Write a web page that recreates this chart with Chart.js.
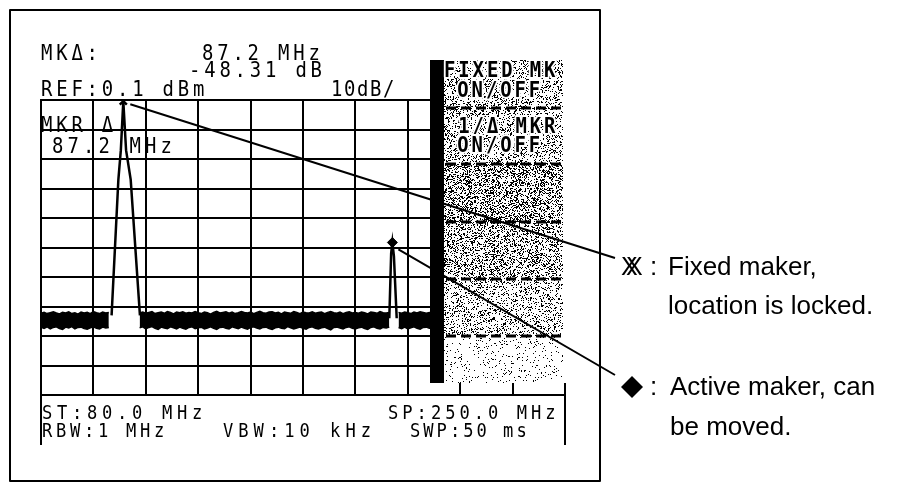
<!DOCTYPE html>
<html>
<head>
<meta charset="utf-8">
<script src="https://cdn.jsdelivr.net/npm/chart.js@4.4.1/dist/chart.umd.min.js"></script>
<style>
    html, body { margin: 0; padding: 0; background: #fff; }
    #wrap { width: 899px; height: 485px; }
</style>
</head>
<body>
<div id="wrap"><canvas id="spectro" width="899" height="485"></canvas></div>
<script>
// Barrido: 80 a 250 MHz, 17 MHz/div, 10 dB/div
const startMHz = 80;
const stopMHz = 250;
const spanStep = 17;
const dbTop = 0;
const dbBottom = -100;
const dbStep = 10;

// Piso de ruido (borde superior e inferior de la banda), null = corte en los picos
const noiseMHz = [80, 81, 82, 83, 84, 85, 86, 87, 88, 89, 90, 91, 92, 93, 94, 95, 96, 97, 98, 99, 100, 101, 102,
    107,
    112, 113, 114, 115, 116, 117, 118, 119, 120, 121, 122, 123, 124, 125, 126, 127, 128, 129, 130, 131,
    132, 133, 134, 135, 136, 137, 138, 139, 140, 141, 142, 143, 144, 145, 146, 147, 148, 149, 150, 151,
    152, 153, 154, 155, 156, 157, 158, 159, 160, 161, 162, 163, 164, 165, 166, 167, 168, 169, 170, 171,
    172, 173, 174, 175, 176, 177, 178, 179, 180, 181, 182, 183, 184, 185, 186, 187, 188, 189, 190, 191,
    192, 193,
    194.5,
    196, 197, 198, 199, 200, 201, 202, 203, 204, 205, 206, 207];
const noiseTop = [-72.3, -72.0, -72.4, -72.1, -71.8, -72.2, -72.5, -72.0, -72.2, -71.8, -72.4, -72.1, -72.6, -71.9, -72.2, -72.0, -72.4, -71.7, -72.1, -72.4, -71.9, -72.2, -72.0,
    null,
    -72.2, -71.9, -72.3, -72.0, -71.7, -72.4, -72.1, -71.9, -72.3, -71.7, -72.0, -72.5, -71.9, -72.1, -71.8, -72.3, -72.0, -72.2, -71.7, -72.1,
    -72.4, -71.9, -72.1, -72.6, -72.0, -71.6, -72.2, -72.0, -71.8, -72.3, -71.9, -72.4, -72.1, -71.7, -72.0, -72.2, -71.9, -72.4, -72.0, -71.6,
    -72.1, -72.3, -71.9, -71.8, -72.2, -72.0, -72.5, -71.9, -72.1, -72.3, -71.7, -72.0, -72.4, -71.9, -72.1, -72.2, -71.8, -72.3, -72.0, -71.9,
    -72.4, -72.0, -71.7, -72.1, -72.3, -71.9, -72.4, -72.0, -71.8, -72.2, -72.0, -72.3, -71.9, -72.1, -72.5, -71.9, -72.0, -72.3, -71.7, -72.1,
    -72.2, -72.0,
    null,
    -72.0, -72.3, -71.9, -72.1, -72.4, -71.9, -72.2, -71.8, -72.0, -72.3, -72.0, -72.2];
const noiseBottom = [-77.0, -77.4, -76.9, -77.6, -77.1, -76.9, -77.5, -77.8, -77.0, -77.3, -76.8, -77.6, -77.1, -77.0, -77.5, -77.7, -77.2, -76.9, -77.4, -77.6, -77.0, -77.3, -77.1,
    null,
    -77.2, -76.9, -77.6, -77.1, -76.8, -77.4, -77.8, -77.0, -77.3, -77.5, -76.9, -77.2, -77.6, -77.0, -77.4, -77.7, -77.1, -76.9, -77.5, -77.2,
    -77.0, -77.6, -77.3, -76.9, -77.4, -77.8, -77.1, -77.0, -77.4, -77.6, -76.9, -77.2, -77.5, -77.0, -77.4, -77.7, -77.1, -76.9, -77.3, -77.6,
    -77.1, -77.0, -77.5, -77.8, -77.2, -77.0, -77.4, -77.5, -76.8, -77.2, -77.6, -77.3, -77.0, -77.4, -77.7, -77.1, -76.9, -77.4, -77.6, -77.2,
    -77.0, -77.5, -77.9, -77.1, -77.0, -77.3, -77.6, -77.1, -76.9, -77.4, -77.6, -77.2, -77.0, -77.5, -77.8, -77.1, -76.9, -77.4, -77.6, -77.1,
    -77.3, -77.0,
    null,
    -77.1, -77.5, -77.0, -77.6, -77.2, -76.9, -77.4, -77.7, -77.1, -77.0, -77.4, -77.5];

// Los dos picos
const peak1MHz = [102.9, 105.1, 105.9, 106.7, 107.6, 109.1, 112.1];
const peak1dB = [-73, -27, -17, -0.4, -17, -27, -73];
const peak2MHz = [193.0, 193.6, 194.0, 194.5, 195.4];
const peak2dB = [-74, -52, -48.3, -53, -74];

// Marcadores: fijo (X) y activo (rombo)
const fixedMarkerMHz = 106.7;
const fixedMarkerdB = -0.4;
const activeMarkerMHz = 194.0;
const activeMarkerdB = -48.3;

const pares = (xs, ys) => xs.map((x, i) => ({ x: x, y: ys[i] }));

// Texto de pantalla con paso fijo (estilo LCD), letras algo estrechas
function lcd(ctx, txt, x, y, paso, halo) {
    [...txt].forEach((ch, i) => {
        ctx.save();
        ctx.translate(x + i * paso, y);
        ctx.scale(0.9, 1);
        if (halo) ctx.strokeText(ch, 0, 0);
        ctx.fillText(ch, 0, 0);
        ctx.restore();
    });
}

// Punteado del panel (textura fija, no son datos)
function punteado(ctx, x, y, w, h, densidad) {
    const img = ctx.createImageData(w, h);
    for (let j = 0; j < h; j++) {
        for (let i = 0; i < w; i++) {
            let n = ((i + x) * 73856093) ^ ((j + y) * 19349663);
            n = (n ^ (n >>> 13)) * 1274126177;
            n = (n ^ (n >>> 16)) & 1023;
            const v = n < densidad * 1024 ? 0 : 255;
            const k = (j * w + i) * 4;
            img.data[k] = v; img.data[k + 1] = v; img.data[k + 2] = v; img.data[k + 3] = 255;
        }
    }
    ctx.putImageData(img, x, y);
}

const overlay = {
    id: 'overlay',
    afterDraw(chart) {
        const ctx = chart.ctx;
        const sx = chart.scales.x;
        const sy = chart.scales.y;
        ctx.save();

        // Panel de teclas a la derecha
        ctx.fillStyle = '#fff';
        ctx.fillRect(430, 60, 138, 323);
        const cajas = [[60, 108, 0.24], [108, 164, 0.24], [164, 222, 0.36],
            [222, 279, 0.3], [279, 336, 0.2], [336, 383, 0.06]];
        cajas.forEach(c => punteado(ctx, 444, c[0], 119, c[1] - c[0], c[2]));
        ctx.fillStyle = '#000';
        ctx.fillRect(430, 60, 14, 323);
        ctx.strokeStyle = '#000';
        ctx.lineWidth = 3;
        ctx.setLineDash([10, 5]);
        [108, 164, 222, 279, 336].forEach(y => {
            ctx.beginPath();
            ctx.moveTo(446, y);
            ctx.lineTo(562, y);
            ctx.stroke();
        });
        ctx.setLineDash([]);

        ctx.textAlign = 'left';
        ctx.textBaseline = 'alphabetic';
        ctx.font = 'bold 21px "DejaVu Sans Mono"';
        ctx.lineWidth = 4;
        ctx.lineJoin = 'round';
        ctx.strokeStyle = '#fff';
        ctx.fillStyle = '#000';
        lcd(ctx, 'FIXED MK', 444, 77, 14.3, true);
        lcd(ctx, ' ON/OFF', 443, 97, 14.3, true);
        lcd(ctx, ' 1/Δ MKR', 444, 133, 14.3, true);
        lcd(ctx, ' ON/OFF', 443, 152, 14.3, true);

        // Textos de la pantalla
        ctx.font = '21px "DejaVu Sans Mono"';
        lcd(ctx, 'MKΔ:', 41, 60, 15.2);
        lcd(ctx, '87.2 MHz', 202, 60, 15.2);
        lcd(ctx, '-48.31 dB', 189, 77, 15.2);
        lcd(ctx, 'REF:0.1 dBm', 41, 96, 15.2);
        lcd(ctx, '10dB/', 331, 96, 13);
        lcd(ctx, 'MKR Δ', 41, 132, 15.2);
        lcd(ctx, '87.2 MHz', 52, 153, 15.5);

        ctx.font = '19px "DejaVu Sans Mono"';
        lcd(ctx, 'ST:80.0 MHz', 42, 419, 15);
        lcd(ctx, 'SP:250.0 MHz', 388, 419, 14.3);
        lcd(ctx, 'RBW:1 MHz', 42, 437, 14);
        lcd(ctx, 'VBW:10 kHz', 223, 437, 15.3);
        lcd(ctx, 'SWP:50 ms', 410, 437, 13.3);

        // Caja inferior y marco exterior
        ctx.strokeStyle = '#000';
        ctx.lineWidth = 2;
        ctx.beginPath();
        ctx.moveTo(41, 395); ctx.lineTo(41, 445);
        ctx.moveTo(565, 395); ctx.lineTo(565, 445);
        ctx.stroke();
        ctx.strokeRect(10, 10, 590, 471);

        // Lineas guia hacia las notas
        const fx = sx.getPixelForValue(fixedMarkerMHz);
        const fy = sy.getPixelForValue(fixedMarkerdB);
        const axp = sx.getPixelForValue(activeMarkerMHz);
        const ayp = sy.getPixelForValue(activeMarkerdB);
        ctx.lineWidth = 2;
        ctx.beginPath();
        ctx.moveTo(fx + 7, fy + 3); ctx.lineTo(615, 258);
        ctx.moveTo(axp + 6, ayp + 7); ctx.lineTo(615, 375);
        ctx.stroke();

        // Notas
        ctx.font = '25px "Liberation Sans"';
        ctx.fillText('X', 621, 275);
        ctx.fillText('X', 626, 275);
        ctx.font = '26px "Liberation Sans"';
        ctx.fillText(':', 650, 275);
        ctx.fillText('Fixed maker,', 668, 275);
        ctx.fillText('location is locked.', 668, 314);
        ctx.beginPath();
        ctx.moveTo(632, 376); ctx.lineTo(643, 387); ctx.lineTo(632, 398); ctx.lineTo(621, 387);
        ctx.closePath();
        ctx.fill();
        ctx.fillText(':', 650, 395);
        ctx.fillText('Active maker, can', 670, 395);
        ctx.fillText('be moved.', 670, 435);

        ctx.restore();
    }
};

const ctx = document.getElementById('spectro').getContext('2d');
const chart = new Chart(ctx, {
    type: 'line',
    data: {
        datasets: [
            {
                label: 'ruido',
                data: pares(noiseMHz, noiseTop),
                borderColor: '#000',
                borderWidth: 1.5,
                backgroundColor: '#000',
                fill: '+1',
                pointRadius: 0,
                tension: 0,
                spanGaps: false
            },
            {
                label: 'ruido inf',
                data: pares(noiseMHz, noiseBottom),
                borderColor: '#000',
                borderWidth: 1.5,
                pointRadius: 0,
                tension: 0,
                spanGaps: false
            },
            {
                label: 'pico 1',
                data: pares(peak1MHz, peak1dB),
                borderColor: '#000',
                borderWidth: 2.5,
                pointRadius: 0,
                tension: 0
            },
            {
                label: 'pico 2',
                data: pares(peak2MHz, peak2dB),
                borderColor: '#000',
                borderWidth: 2.5,
                pointRadius: 0,
                tension: 0
            },
            {
                label: 'mk fijo',
                data: [{ x: fixedMarkerMHz, y: fixedMarkerdB }],
                showLine: false,
                pointStyle: 'crossRot',
                pointRadius: 5,
                borderColor: '#000',
                borderWidth: 2.5
            },
            {
                label: 'mk activo',
                data: [{ x: activeMarkerMHz, y: activeMarkerdB }],
                showLine: false,
                pointStyle: 'rectRot',
                pointRadius: 5,
                backgroundColor: '#000',
                borderColor: '#000',
                borderWidth: 1
            }
        ]
    },
    options: {
        responsive: false,
        animation: false,
        events: [],
        layout: { padding: { left: 41, top: 100, right: 334, bottom: 90 } },
        plugins: {
            legend: { display: false },
            tooltip: { enabled: false }
        },
        scales: {
            x: {
                type: 'linear',
                min: startMHz,
                max: stopMHz,
                ticks: { display: false, stepSize: spanStep },
                grid: { color: '#000', lineWidth: 2, drawTicks: false },
                border: { color: '#000', width: 2 },
                afterFit: s => { s.height = 0; }
            },
            y: {
                type: 'linear',
                min: dbBottom,
                max: dbTop,
                ticks: { display: false, stepSize: dbStep },
                grid: { color: '#000', lineWidth: 2, drawTicks: false },
                border: { color: '#000', width: 2 },
                afterFit: s => { s.width = 0; }
            }
        }
    },
    plugins: [overlay]
});
</script>
</body>
</html>
